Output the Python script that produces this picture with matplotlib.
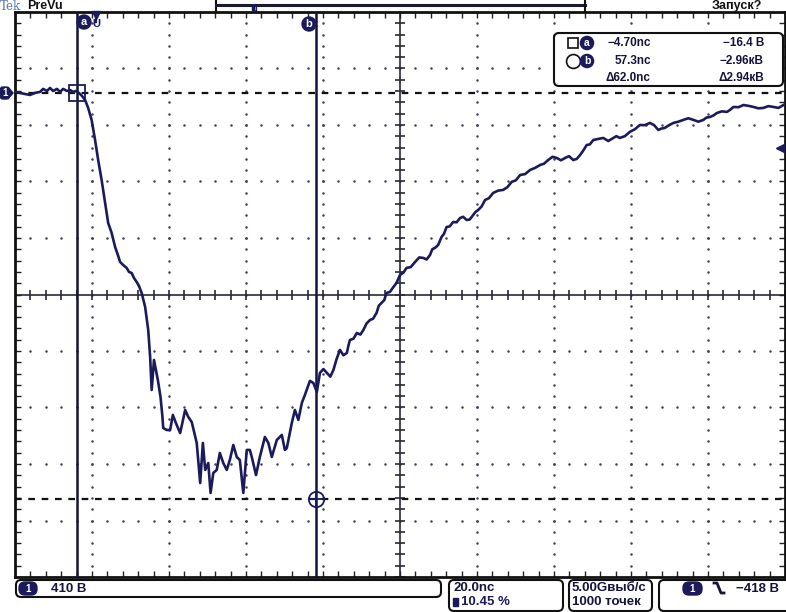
import numpy as np
import matplotlib
matplotlib.use("Agg")
import matplotlib.pyplot as plt
from matplotlib.patches import FancyBboxPatch, Polygon, Rectangle

# ---------------- data (time in ns, voltage in V) ----------------
time_ns = [-20.9, -19.6, -18.3, -17.0, -15.7, -14.4, -13.6, -12.6, -11.8, -11.0,
           -10.0, -9.2, -8.4, -7.4, -6.6, -5.8, -5.1, -4.3,
           -3.5, -2.7, -1.9, -1.0, -0.1, 0.7, 1.6, 2.5, 3.3, 4.2, 5.1, 5.9, 6.4,
           7.2, 8.1, 8.7, 9.4, 10.0, 10.7, 11.3, 12.0, 12.9, 13.7, 14.2, 14.6,
           14.9, 15.2, 15.7, 16.2, 16.9, 17.4, 17.6, 18.5, 19.4, 20.1, 21.1, 22.0,
           23.3, 24.1, 25.0, 26.3, 27.2, 27.9, 28.5, 29.3, 29.9, 30.6, 31.5, 32.3,
           33.2, 34.1, 34.9, 35.8, 36.7, 37.5, 38.4, 39.3, 40.1, 40.6, 41.7, 42.7,
           44.0, 44.9, 45.8, 47.1, 48.4, 49.2, 49.7, 51.0, 51.8, 52.7, 53.6, 54.4,
           55.7, 56.6, 57.5,
           58.3, 59.2, 60.1, 61.0, 61.8, 62.6, 63.5, 64.4, 65.3, 65.7, 66.1, 67.0,
           67.9, 68.8, 69.6, 70.4, 71.3, 72.1, 73.0, 73.6, 74.3, 75.0, 75.6, 76.5,
           77.4, 78.2, 79.1, 80.0, 80.8, 81.9, 83.0, 84.1, 85.2, 86.0, 86.9, 87.5,
           88.2, 89.0, 89.9, 90.5, 91.2, 92.0, 92.9, 93.8, 94.7, 95.5, 96.4, 97.2,
           98.1, 98.7, 99.4, 100.3, 101.2, 102.2, 103.3, 104.6, 105.9, 107.0, 108.1,
           109.2, 110.3, 111.6, 112.9, 114.2, 115.5, 116.5, 117.6, 118.7, 119.8,
           120.9, 122.0, 123.0, 124.1, 125.0, 125.9, 126.8, 127.6, 128.4, 129.3,
           130.6, 131.9, 133.2, 134.5, 135.3, 136.2, 137.5, 138.8, 140.1, 141.4,
           142.7, 144.0, 145.1, 146.2, 147.0, 147.9, 149.0, 150.1, 151.4, 152.7,
           154.0, 155.3, 156.6, 157.9, 158.7, 159.6, 160.5, 161.4, 162.7, 164.0,
           164.8, 165.7, 167.0, 168.3, 169.6, 170.9, 172.2, 173.5, 174.8, 176.1,
           177.4, 178.7]
volts = [-9, -16, -24, -31, -16, -9, 13, -2, 20, -2,
         13, -9, 13, -2, 5, -9, -2, -16,
         -38, -67, -125, -212, -358, -503, -648, -815, -960, -1032, -1134, -1199, -1243,
         -1265, -1286, -1315, -1323, -1359, -1388, -1417, -1468, -1569, -1736, -1932, -2172,
         -2063, -1954, -2027, -2099, -2223, -2368, -2448, -2462, -2462, -2353, -2426, -2484,
         -2317, -2367, -2404, -2556, -2847, -2556, -2752, -2702, -2919, -2774, -2752, -2629,
         -2702, -2752, -2680, -2571, -2658, -2680, -2919, -2607, -2607, -2658, -2789, -2658,
         -2513, -2556, -2658, -2535, -2498, -2607, -2593, -2411, -2317, -2389, -2266, -2208,
         -2106, -2121, -2186,
         -2048, -2020, -2048, -2075, -2027, -1950, -1881, -1920, -1903, -1850, -1809, -1800,
         -1758, -1770, -1736, -1690, -1664, -1655, -1613, -1560, -1540, -1520, -1468, -1460,
         -1424, -1395, -1337, -1320, -1286, -1280, -1243, -1210, -1214, -1225, -1192, -1150,
         -1141, -1120, -1061, -1040, -989, -985, -953, -955, -924, -915, -938, -935,
         -902, -880, -866, -840, -793, -780, -742, -725, -720, -700, -662,
         -650, -612, -605, -575, -560, -539, -530, -503, -480, -488,
         -505, -488, -475, -503, -495, -466, -430, -394, -390, -358,
         -350, -343, -365, -343, -330, -343, -330, -299, -280, -249,
         -250, -234, -250, -285, -275, -270, -250, -234, -225, -212,
         -200, -212, -225, -212, -195, -191, -180, -162, -150, -154,
         -140, -118, -120, -104, -110, -118, -128, -125, -112, -118,
         -125, -104]

cursor_t = [-4.70, 57.3]        # ns
cursor_v = [-16.4, -2960.0]     # V
trigger_level = -418.0          # V
trigger_time = 0.0              # ns

t_left = -20.9
t_per_div = 20.0
v_per_div = 410.0
v_top = 571.0
n_div = 10

readout_rows = [("\u22124.70nc", "\u221216.4 В"), ("57.3nc", "\u22122.96кВ"), ("\u039462.0nc", "\u03942.94кВ")]
status_ch = "410 В"
status_time = "20.0nc"
status_pos = "10.45 %"
status_rate = ["5.00Gвыб/с", "1000 точек"]
status_trig = "\u2212418 В"

# ---------------- figure ----------------
W, H = 786, 612
NAVY = "#1b1b5c"
DARK = "#14143c"
FONT = ["Liberation Sans", "DejaVu Sans"]

fig = plt.figure(figsize=(W / 100, H / 100), dpi=100)
fig.patch.set_facecolor("white")
L, R, T, B = 15, 785, 12, 577
ax = fig.add_axes([L / W, 1 - B / H, (R - L) / W, (B - T) / H])
xmin, xmax = t_left, t_left + n_div * t_per_div
ymax, ymin = v_top, v_top - n_div * v_per_div
ax.set_xlim(xmin, xmax)
ax.set_ylim(ymin, ymax)

# dotted graticule
xc = xmin + 5 * t_per_div
yc = ymin + 5 * v_per_div
ys_fine = np.arange(ymin, ymax + 1e-6, v_per_div / 5)
xs_fine = np.arange(xmin, xmax + 1e-6, t_per_div / 5)
for k in range(1, n_div):
    if k == 5:
        continue
    gx = xmin + k * t_per_div
    ax.plot(np.full(len(ys_fine), gx), ys_fine, ls="none", marker="o", ms=1.8,
            color="#40405a", mew=0, zorder=1)
    gy = ymin + k * v_per_div
    ax.plot(xs_fine, np.full(len(xs_fine), gy), ls="none", marker="o", ms=1.8,
            color="#40405a", mew=0, zorder=1)

# center cross with ticks
ax.axvline(xc, color="#2a2a3a", lw=1.2, zorder=1)
ax.axhline(yc, color="#2a2a3a", lw=1.2, zorder=1)
ax.plot(np.full(len(ys_fine), xc), ys_fine, ls="none", marker="_", ms=7, mew=1.2,
        color="#2a2a3a", zorder=1)
ax.plot(xs_fine, np.full(len(xs_fine), yc), ls="none", marker="|", ms=7, mew=1.2,
        color="#2a2a3a", zorder=1)

# frame ticks
ax.set_xticks(xs_fine)
ax.set_yticks(ys_fine)
ax.tick_params(direction="in", length=4, width=1, top=True, right=True,
               labelbottom=False, labelleft=False, color="#222")
for s in ax.spines.values():
    s.set_linewidth(2)
    s.set_color("#111")

# cursors
for t in cursor_t:
    ax.axvline(t, color=DARK, lw=1.8, zorder=4)
for v in cursor_v:
    ax.axhline(v, color="#111", lw=1.6, ls=(0, (3, 3)), zorder=4)
ax.plot(cursor_t[0], cursor_v[0], marker="s", ms=11, mfc="none", mec=NAVY, mew=1.3, zorder=6)
ax.plot(cursor_t[1], cursor_v[1], marker="o", ms=11, mfc="none", mec=NAVY, mew=1.3, zorder=6)
ax.plot(cursor_t[1], cursor_v[1], marker="+", ms=12, mec=NAVY, mew=1.3, zorder=6)

# waveform
ax.plot(time_ns, volts, color=NAVY, lw=1.9, zorder=5, solid_joinstyle="round")

# trigger level marker on right edge
tr = matplotlib.transforms.blended_transform_factory(ax.transAxes, ax.transData)
ax.plot(0.994, trigger_level, marker="<", ms=6, color=NAVY, transform=tr, clip_on=False, zorder=7)

# ---------------- overlay (pixel coords) ----------------
ov = fig.add_axes([0, 0, 1, 1], zorder=10)
ov.set_xlim(0, W)
ov.set_ylim(H, 0)
ov.axis("off")
ov.patch.set_alpha(0)

def txt(x, y, s, size=9, color="#111", ha="left", weight="bold", family=FONT, **kw):
    ov.text(x, y, s, fontsize=size, color=color, ha=ha, va="center",
            fontweight=weight, family=family, **kw)

# header
txt(0, 6, "Tek", size=8.5, color="#5a78a8", weight="normal", family=["DejaVu Serif"])
txt(27, 6, "PreVu", size=9)
txt(712, 6, "Запуск?", size=9)
ov.plot([216, 216], [0, 12], color="#111", lw=1.5)
ov.plot([216, 585], [4.5, 4.5], color="#1a1a30", lw=2.2)
ov.plot([585, 585], [0, 12], color="#111", lw=1.5)
ov.plot([254, 254], [4.5, 10], color=NAVY, lw=1.5)
txt(254, 9, "u", size=8, color=NAVY, ha="center")

# cursor labels at top
ov.text(84, 22, "a", fontsize=8, color="white", ha="center", va="center", fontweight="bold",
        family=FONT, bbox=dict(boxstyle="circle,pad=0.18", fc=NAVY, ec=NAVY))
ov.text(309, 24, "b", fontsize=8, color="white", ha="center", va="center", fontweight="bold",
        family=FONT, bbox=dict(boxstyle="circle,pad=0.18", fc=NAVY, ec=NAVY))
ov.plot(96, 14.5, marker="v", ms=6, color=NAVY)
ov.plot([96, 96], [14, 22], color=NAVY, lw=1.6)
txt(96, 24, "U", size=8, color=NAVY, ha="center")

# ground marker on left
ov.add_patch(FancyBboxPatch((0, 87), 9, 12, boxstyle="round,pad=0,rounding_size=3",
                            fc=NAVY, ec=NAVY))
ov.add_patch(Polygon([[8, 87], [13, 93], [8, 99]], closed=True, fc=NAVY, ec=NAVY))
txt(5.5, 93, "1", size=7, color="white", ha="center")

# cursor readout box
ov.add_patch(FancyBboxPatch((554, 33), 229, 53, boxstyle="round,pad=0,rounding_size=5",
                            fc="white", ec="#111", lw=1.5))
row_y = [43, 61, 78]
ov.add_patch(Rectangle((568, 38), 10, 10, fc="none", ec="#111", lw=1.2))
ov.plot(573, 61, marker="o", ms=10, mfc="none", mec="#111", mew=1.2)
for yy, lab in zip(row_y[:2], ["a", "b"]):
    ov.text(587, yy, lab, fontsize=7.5, color="white", ha="center", va="center",
            fontweight="bold", family=FONT, bbox=dict(boxstyle="circle,pad=0.15", fc=NAVY, ec=NAVY))
for yy, (a_txt, b_txt) in zip(row_y, readout_rows):
    txt(651, yy, a_txt, size=8.5, color=DARK, ha="right")
    txt(764, yy, b_txt, size=8.5, color=DARK, ha="right")

# status bar
def sbox(x, y, w, h):
    ov.add_patch(FancyBboxPatch((x, y), w, h, boxstyle="round,pad=0,rounding_size=5",
                                fc="white", ec="#111", lw=1.5, clip_on=False))

sbox(16, 580, 425, 17)
sbox(449, 580, 114, 31)
sbox(569, 580, 83, 31)
sbox(659, 580, 140, 31)

ov.add_patch(FancyBboxPatch((19, 582), 18, 13, boxstyle="round,pad=0,rounding_size=6",
                            fc=NAVY, ec=NAVY))
txt(28, 588.5, "1", size=7, color="white", ha="center")
txt(51, 588.5, status_ch, size=9.5, color=DARK)

txt(454, 588, status_time, size=9.5, color=DARK)
ov.add_patch(Rectangle((453, 598), 5, 8, fc=NAVY, ec=NAVY))
txt(461, 602, status_pos, size=9.5, color=NAVY)

txt(572, 588, status_rate[0], size=9.5, color=DARK)
txt(572, 602, status_rate[1], size=9.5, color=DARK)

ov.add_patch(FancyBboxPatch((683, 582), 19, 13, boxstyle="round,pad=0,rounding_size=6",
                            fc=NAVY, ec=NAVY))
txt(692.5, 588.5, "1", size=7, color="white", ha="center")
ov.plot([714, 717, 721, 724], [583, 583, 593, 593], color=DARK, lw=2)
txt(779, 588.5, status_trig, size=9.5, color=DARK, ha="right")

fig.savefig("out.png", dpi=100, facecolor="white")
